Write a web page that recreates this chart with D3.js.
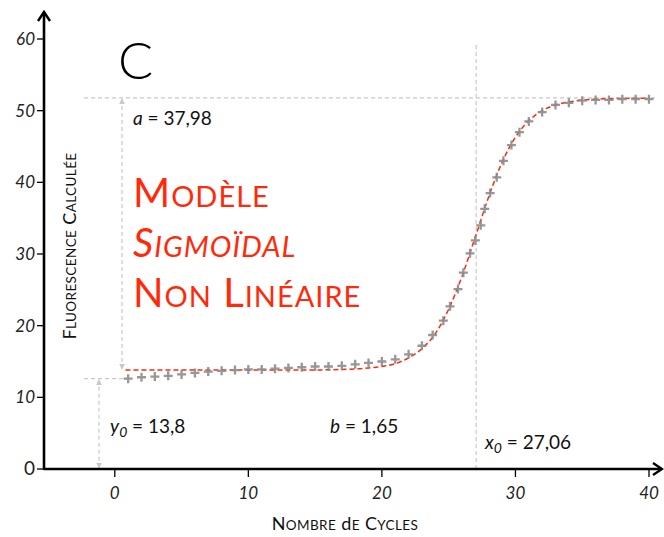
<!DOCTYPE html>
<html lang="fr">
<head>
<meta charset="utf-8">
<script src="https://cdn.jsdelivr.net/npm/d3@7"></script>
<style>
  body { margin: 0; background: #fff; }
  svg { font-family: Lato, "Open Sans", sans-serif; }
</style>
</head>
<body>
<svg width="664" height="537"></svg>
<script>
// data
var cycles = [1,2,3,4,5,6,7,8,9,10,11,12,13,14,15,16,17,18,19,20,21,22,23,
              23.8,24.6,25.1,25.7,26.1,26.6,27.0,27.4,27.7,28.1,28.6,29.1,29.7,30.3,31.0,
              32,33,34,35,36,37,38,39,40];
var fluo = [12.6,12.8,12.9,13.0,13.2,13.4,13.6,13.7,13.8,13.9,13.9,14.0,14.1,14.2,14.3,14.3,14.4,14.6,14.8,15.0,15.3,16.0,17.2,
            18.7,20.7,22.7,25.1,27.4,30.1,31.9,34.0,36.3,38.5,40.7,43.0,45.2,47.0,48.5,
            49.8,50.8,51.1,51.4,51.5,51.5,51.6,51.6,51.6];

// fitted curve (red dashed)
var fitX = [0.8,5,10,15,18,19,20,21,22,23,24,25,26,27,28,29,30,31,32,33,34,35,36,38,40];
var fitY = [13.8,13.8,13.8,13.82,13.96,14.1,14.3,14.7,15.5,16.8,18.9,22.3,26.9,32.4,38.0,42.8,46.3,48.6,50.0,50.8,51.2,51.5,51.6,51.7,51.75];

var yTicks = [0,10,20,30,40,50,60];
var xTicks = [0,10,20,30,40];

var y0 = 13.8, a = 37.98, b = 1.65, x0 = 27.06;
var y0Text = "13,8", aText = "37,98", bText = "1,65", x0Text = "27,06";

var svg = d3.select("svg");

var x = d3.scaleLinear().domain([-5.3, 40]).range([44, 649]);
var y = d3.scaleLinear().domain([0, 60]).range([469, 39]);

var grey = "#c9c9c9", red = "#ff2a0a";

svg.append("defs").append("marker")
    .attr("id", "head")
    .attr("viewBox", "0 0 10 10")
    .attr("refX", 9).attr("refY", 5)
    .attr("markerWidth", 5).attr("markerHeight", 5)
    .attr("orient", "auto-start-reverse")
  .append("path")
    .attr("d", "M0,0L10,5L0,10Z")
    .attr("fill", grey);

function dashed(x1, y1, x2, y2) {
  return svg.append("line")
    .attr("x1", x1).attr("y1", y1).attr("x2", x2).attr("y2", y2)
    .attr("stroke", grey).attr("stroke-width", 1.2)
    .attr("stroke-dasharray", "4,3");
}

// small caps drawn by hand: first letter big, rest upper case smaller
function smallCaps(sel, words, big, small) {
  words.forEach(function(w, i) {
    sel.append("tspan").attr("font-size", big).text((i ? " " : "") + w[0]);
    sel.append("tspan").attr("font-size", small).text(w.slice(1).toUpperCase());
  });
  return sel;
}

// guide lines
dashed(84, y(y0 + a), 658, y(y0 + a));
dashed(84, y(fluo[0]), x(cycles[0]) - 3, y(fluo[0]));
dashed(x(x0), 45, x(x0), y(0));
dashed(122, y(y0 + a) + 1, 122, y(y0) - 1)
  .attr("marker-start", "url(#head)").attr("marker-end", "url(#head)");
dashed(99, y(fluo[0]) + 1, 99, y(0) - 1)
  .attr("marker-start", "url(#head)").attr("marker-end", "url(#head)");

// axes
var axisG = svg.append("g");
axisG.append("line")
  .attr("x1", x.range()[0]).attr("y1", y(0)).attr("x2", 662).attr("y2", y(0))
  .attr("stroke", "#000").attr("stroke-width", 2.6);
axisG.append("line")
  .attr("x1", x.range()[0]).attr("y1", y(0) + 1).attr("x2", x.range()[0]).attr("y2", 12)
  .attr("stroke", "#000").attr("stroke-width", 2.6);
axisG.append("path")
  .attr("d", "M" + (x.range()[0] - 6) + ",21L" + x.range()[0] + ",12L" + (x.range()[0] + 6) + ",21")
  .attr("fill", "none").attr("stroke", "#000").attr("stroke-width", 2.4);
axisG.append("path")
  .attr("d", "M653," + (y(0) - 6) + "L662," + y(0) + "L653," + (y(0) + 6))
  .attr("fill", "none").attr("stroke", "#000").attr("stroke-width", 2.4);

svg.selectAll(".ytick").data(yTicks).enter().append("line")
  .attr("x1", x.range()[0] - 7).attr("x2", x.range()[0])
  .attr("y1", function(d) { return y(d); }).attr("y2", function(d) { return y(d); })
  .attr("stroke", "#000").attr("stroke-width", 1.3);
svg.selectAll(".ylab").data(yTicks).enter().append("text")
  .attr("x", 35).attr("y", function(d) { return y(d) + 6; })
  .attr("text-anchor", "end")
  .attr("font-size", function(d) { return d == 0 ? 19 : 17; })
  .attr("font-style", function(d) { return d == 0 ? "normal" : "italic"; })
  .attr("fill", "#222")
  .text(function(d) { return d; });

svg.selectAll(".xtick").data(xTicks).enter().append("line")
  .attr("x1", function(d) { return x(d); }).attr("x2", function(d) { return x(d); })
  .attr("y1", y(0)).attr("y2", y(0) + 8)
  .attr("stroke", "#000").attr("stroke-width", 1.3);
svg.selectAll(".xlab").data(xTicks).enter().append("text")
  .attr("x", function(d) { return x(d); }).attr("y", y(0) + 30)
  .attr("text-anchor", "middle")
  .attr("font-size", 17).attr("font-style", "italic")
  .attr("fill", "#222")
  .text(function(d) { return d; });

// axis titles
smallCaps(svg.append("text")
  .attr("x", 345).attr("y", 530).attr("text-anchor", "middle")
  .attr("fill", "#111").attr("letter-spacing", 0.4),
  ["Nombre", "de", "Cycles"], 18, 13.5);
smallCaps(svg.append("text")
  .attr("transform", "translate(76,246) rotate(-90)")
  .attr("text-anchor", "middle")
  .attr("fill", "#111").attr("letter-spacing", 0.4),
  ["Fluorescence", "Calculée"], 18, 13.5);

// fitted curve
var line = d3.line()
  .x(function(d) { return x(d[0]); })
  .y(function(d) { return y(d[1]); })
  .curve(d3.curveMonotoneX);
svg.append("path")
  .datum(d3.zip(fitX, fitY))
  .attr("d", line)
  .attr("fill", "none").attr("stroke", red)
  .attr("stroke-width", 1.5).attr("stroke-dasharray", "5,3");

// data points
svg.selectAll(".pt").data(d3.zip(cycles, fluo)).enter().append("path")
  .attr("transform", function(d) { return "translate(" + x(d[0]) + "," + y(d[1]) + ")"; })
  .attr("d", "M-4.5,0H4.5M0,-4.5V4.5")
  .attr("stroke", "#8c8c8c").attr("stroke-width", 2.3).attr("opacity", 0.9);

// labels
svg.append("text").attr("x", 118).attr("y", 79)
  .attr("font-size", 52).attr("font-weight", 300).attr("fill", "#000").text("C");

var lab = svg.append("text").attr("x", 133).attr("y", 125).attr("font-size", 19).attr("fill", "#111");
lab.append("tspan").attr("font-style", "italic").text("a");
lab.append("tspan").text(" = " + aText);

lab = svg.append("text").attr("x", 110).attr("y", 433).attr("font-size", 19).attr("fill", "#111");
lab.append("tspan").attr("font-style", "italic").text("y");
lab.append("tspan").attr("font-style", "italic").attr("font-size", 14).attr("dy", 4).text("0");
lab.append("tspan").attr("dy", -4).text(" = " + y0Text);

lab = svg.append("text").attr("x", 330).attr("y", 433).attr("font-size", 19).attr("fill", "#111");
lab.append("tspan").attr("font-style", "italic").text("b");
lab.append("tspan").text(" = " + bText);

lab = svg.append("text").attr("x", 485).attr("y", 449).attr("font-size", 19).attr("fill", "#111");
lab.append("tspan").attr("font-style", "italic").text("x");
lab.append("tspan").attr("font-style", "italic").attr("font-size", 14).attr("dy", 4).text("0");
lab.append("tspan").attr("dy", -4).text(" = " + x0Text);

// red title
var titleLines = [["Modèle"], ["Sigmoïdal"], ["Non", "Linéaire"]];
var titleStyle = ["normal", "italic", "normal"];
titleLines.forEach(function(words, i) {
  smallCaps(svg.append("text")
    .attr("x", 133).attr("y", 207 + i * 50)
    .attr("font-style", titleStyle[i])
    .attr("letter-spacing", 1)
    .attr("fill", red), words, 40, 29);
});
</script>
</body>
</html>
